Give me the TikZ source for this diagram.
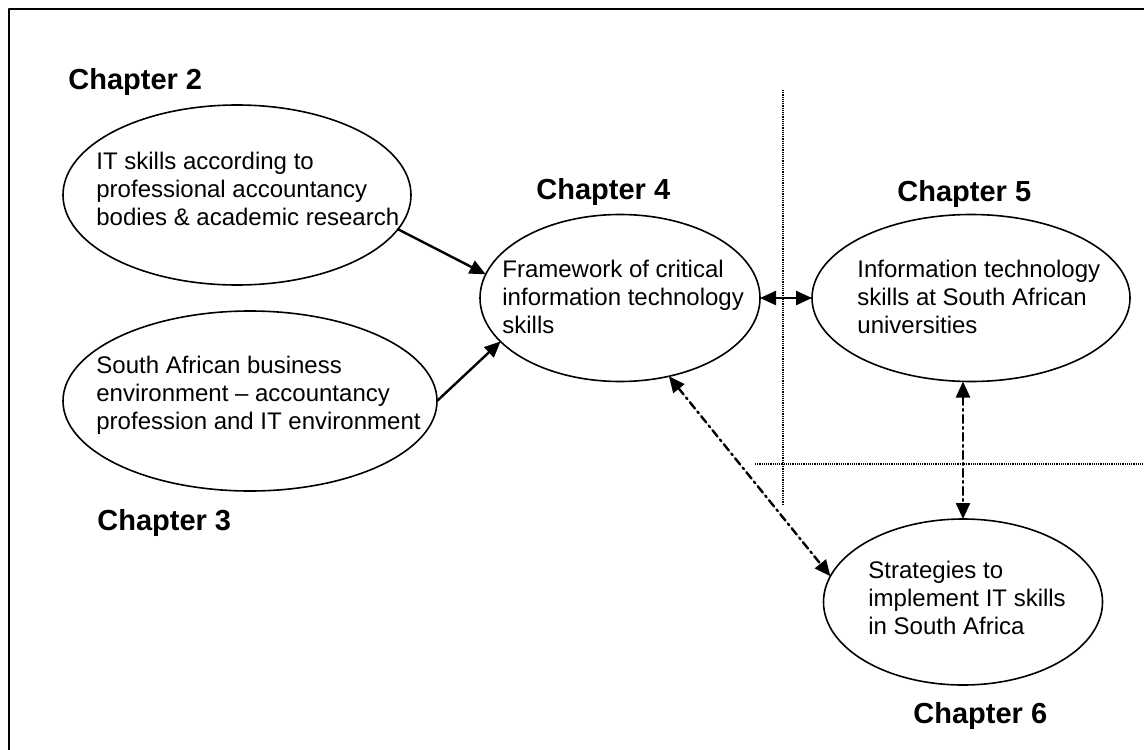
\documentclass[tikz,border=0pt]{standalone}
\usepackage{fontspec}
\setmainfont{Liberation Sans}
\usetikzlibrary{arrows.meta,shapes.geometric}

\begin{document}
\begin{tikzpicture}[line cap=round,line join=round,>={Triangle[length=8pt,width=7pt]},x=0.5pt,y=-0.5pt,
  bubble/.style={draw,ellipse,line width=0.8pt,inner sep=0pt,outer sep=0pt},
  body/.style={anchor=north west,inner sep=0pt,align=left,font=\fontsize{12}{14}\selectfont},
  chap/.style={anchor=north west,inner sep=0pt,font=\fontsize{14.5}{17}\selectfont\bfseries},
  link/.style={line width=1.2pt,->},
  dashlink/.style={line width=1.2pt,<->,dash pattern=on 4pt off 2pt on 1pt off 2pt},
  divider/.style={line width=1pt,line cap=butt,dash pattern=on 0.6pt off 0.5pt}]
\useasboundingbox (0,0) rectangle (1144,749);
\draw [line width=1pt] (9,760) -- (9,9) -- (1150,9);
% bubbles
\node [bubble,minimum width=174pt,minimum height=90pt] (it1) at (237,195) {};
\node [bubble,minimum width=187pt,minimum height=90pt] (it2) at (250,401) {};
\node [bubble,minimum width=140pt,minimum height=83.5pt] (it3) at (620,298) {};
\node [bubble,minimum width=159pt,minimum height=83.5pt] (it4) at (971,298) {};
\node [bubble,minimum width=139.5pt,minimum height=83pt] (it5) at (963,602) {};
% texts
\node [body] (it1 text) at (96,152) {IT skills according to\\professional accountancy\\bodies \& academic research};
\node [body] (it2 text) at (96,356) {South African business\\environment – accountancy\\profession and IT environment};
\node [body] (it3 text) at (502,260) {Framework of critical\\information technology\\skills};
\node [body] (it4 text) at (857,260) {Information technology\\skills at South African\\universities};
\node [body] (it5 text) at (868,561) {Strategies to\\implement IT skills\\in South Africa};
\node [chap] (ch2) at (68,68) {Chapter 2};
\node [chap] (ch3) at (97,509) {Chapter 3};
\node [chap] (ch4) at (536,178) {Chapter 4};
\node [chap] (ch5) at (897,180) {Chapter 5};
\node [chap] (ch6) at (913,702) {Chapter 6};
% dividers
\draw [divider] (783,90) -- (783,505);
\draw [divider] (755,464) -- (1144,464);
% connectors
\draw [link] (it1.-12) -- (it3.170);
\draw [link] (it2.0) -- (it3.200);
\draw [line width=1.2pt,<->] (it3.east) -- (it4.west);
\draw [dashlink] (it5.north |- it4.south) -- (it5.north);
\draw [dashlink] (it3.-58) -- (it5.169);
\end{tikzpicture}
\end{document}
